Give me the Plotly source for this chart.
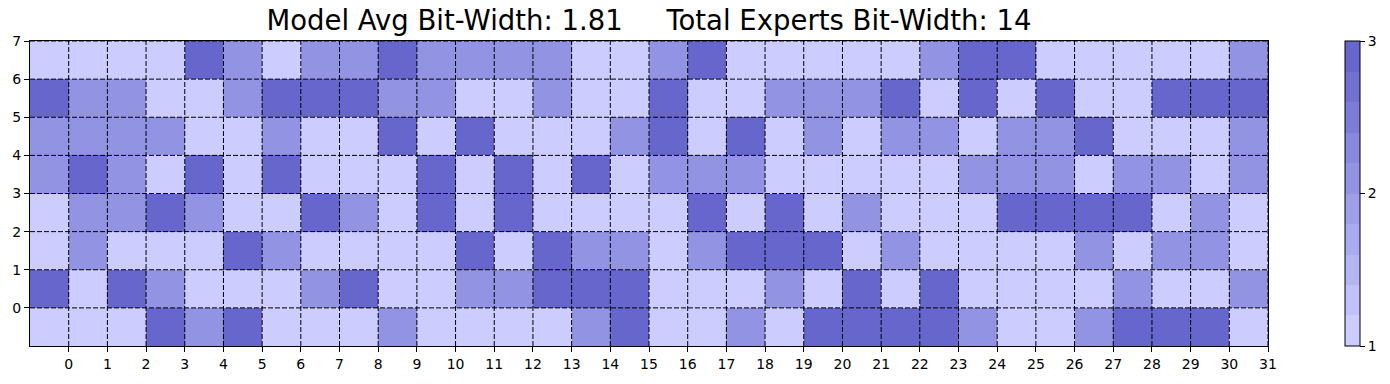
import plotly.graph_objects as go

avg_bit_width = 1.81
total_expert_bits = 14

# bit-width per cell (1, 2 or 3), bottom row first, 32 columns each
row_0 = [1, 1, 1, 3, 2, 3, 1, 1, 1, 2, 1, 1, 1, 1, 2, 3, 1, 1, 2, 1, 3, 3, 3, 3, 2, 1, 1, 2, 3, 3, 3, 1]
row_1 = [3, 1, 3, 2, 1, 1, 1, 2, 3, 1, 1, 2, 2, 3, 3, 3, 1, 1, 1, 2, 1, 3, 1, 3, 1, 1, 1, 1, 2, 1, 1, 2]
row_2 = [1, 2, 1, 1, 1, 3, 2, 1, 1, 1, 1, 3, 1, 3, 2, 2, 1, 2, 3, 3, 3, 1, 2, 1, 1, 1, 1, 2, 1, 2, 2, 1]
row_3 = [1, 2, 2, 3, 2, 1, 1, 3, 2, 1, 3, 1, 3, 1, 1, 1, 1, 3, 1, 3, 1, 2, 1, 1, 1, 3, 3, 3, 3, 1, 2, 1]
row_4 = [2, 3, 2, 1, 3, 1, 3, 1, 1, 1, 3, 1, 3, 1, 3, 1, 2, 2, 2, 1, 1, 1, 1, 1, 2, 2, 2, 1, 2, 2, 1, 2]
row_5 = [2, 2, 2, 2, 1, 1, 2, 1, 1, 3, 1, 3, 1, 1, 1, 2, 3, 1, 3, 1, 2, 1, 2, 2, 1, 2, 2, 3, 1, 1, 1, 2]
row_6 = [3, 2, 2, 1, 1, 2, 3, 3, 3, 2, 2, 1, 1, 2, 1, 1, 3, 1, 1, 2, 2, 2, 3, 1, 3, 1, 3, 1, 1, 3, 3, 3]
row_7 = [1, 1, 1, 1, 3, 2, 1, 2, 2, 3, 2, 2, 2, 2, 1, 1, 2, 3, 1, 1, 1, 1, 1, 2, 3, 3, 1, 1, 1, 1, 1, 2]

bit_rows = [row_0, row_1, row_2, row_3, row_4, row_5, row_6, row_7]

x_labels = [str(i) for i in range(32)]
y_labels = [str(i) for i in range(8)]
cbar_ticks = [1, 2, 3]

n_cols = len(x_labels)
n_rows = len(y_labels)

# 10-step colormap from light lavender to slate blue
light = (204, 204, 255)
dark = (102, 102, 204)
n_steps = 10
eps = 1e-9
colorscale = []
for k in range(n_steps):
    t = k / (n_steps - 1)
    c = 'rgb({},{},{})'.format(*[round(a + (b - a) * t) for a, b in zip(light, dark)])
    lo = 0 if k == 0 else k / n_steps - eps
    hi = 1 if k == n_steps - 1 else (k + 1) / n_steps - eps
    colorscale.append([lo, c])
    colorscale.append([hi, c])

font = 'DejaVu Sans'

fig = go.Figure()

fig.add_trace(
    go.Heatmap(
        z=bit_rows,
        x=[i + 0.5 for i in range(n_cols)],
        y=[j + 0.5 for j in range(n_rows)],
        zmin=1,
        zmax=3,
        colorscale=colorscale,
        hoverinfo='skip',
        colorbar=dict(
            thickness=15,
            len=1,
            lenmode='fraction',
            x=1.062,
            xanchor='left',
            xpad=0,
            y=0.5,
            yanchor='middle',
            ypad=0,
            outlinewidth=1,
            outlinecolor='black',
            tickvals=cbar_ticks,
            ticks='outside',
            ticklen=5,
            tickcolor='black',
            tickfont=dict(family=font, size=14, color='black'),
        ),
    )
)

# dashed grid on top of the cells, at every tick position
dash_line = dict(color='black', width=1, dash='5px,2px')
for i in range(1, n_cols + 1):
    fig.add_shape(type='line', xref='x', yref='y', x0=i, x1=i, y0=0, y1=n_rows,
                  line=dash_line, layer='above')
for j in range(1, n_rows + 1):
    fig.add_shape(type='line', xref='x', yref='y', x0=0, x1=n_cols, y0=j, y1=j,
                  line=dash_line, layer='above')

axis_style = dict(
    showline=True,
    mirror=True,
    linecolor='black',
    linewidth=1,
    ticks='outside',
    ticklen=5,
    tickcolor='black',
    showgrid=False,
    zeroline=False,
    tickfont=dict(family=font, size=14, color='black'),
)

fig.update_xaxes(range=[0, n_cols], tickvals=[i + 1 for i in range(n_cols)],
                 ticktext=x_labels, **axis_style)
fig.update_yaxes(range=[0, n_rows], tickvals=[j + 1 for j in range(n_rows)],
                 ticktext=y_labels, **axis_style)

title = (f'Model Avg Bit-Width: {avg_bit_width}' + '\u00a0' * 5 +
         f'Total Experts Bit-Width: {total_expert_bits}')

fig.update_layout(
    width=1390,
    height=384,
    margin=dict(l=29, r=121, t=41, b=34),
    paper_bgcolor='white',
    plot_bgcolor='white',
    font=dict(family=font, color='black'),
    title=dict(
        text=title,
        x=0.5,
        xref='paper',
        xanchor='center',
        y=1 - 20 / 384,
        yref='container',
        yanchor='middle',
        font=dict(family=font, size=27.5, color='black'),
    ),
)

# drop the default page margin so the figure sits at the window origin
fig.write_html('out.html', config={'displayModeBar': False},
               post_script="document.body.style.margin='0';")
